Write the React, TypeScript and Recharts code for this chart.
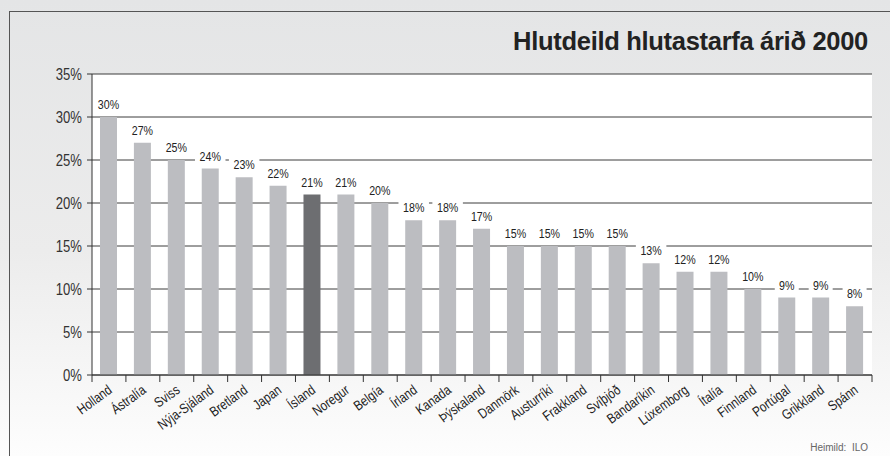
import React from "react";
import { BarChart, Bar, XAxis, YAxis, CartesianGrid, Cell, LabelList } from "recharts";

const countries = [
  "Holland", "Ástralía", "Sviss", "Nýja-Sjáland", "Bretland", "Japan", "Ísland",
  "Noregur", "Belgía", "Írland", "Kanada", "Þýskaland", "Danmörk", "Austurríki",
  "Frakkland", "Svíþjóð", "Bandaríkin", "Lúxemborg", "Ítalía", "Finnland",
  "Portúgal", "Grikkland", "Spánn",
];
const shares = [30, 27, 25, 24, 23, 22, 21, 21, 20, 18, 18, 17, 15, 15, 15, 15, 13, 12, 12, 10, 9, 9, 8];
const highlighted = "Ísland";
const yTicks = [0, 5, 10, 15, 20, 25, 30, 35];
const title = "Hlutdeild hlutastarfa árið 2000";
const source = "Heimild:  ILO";

const data = countries.map((c, i) => ({ country: c, share: shares[i] }));

const SANS = '"Liberation Sans", Arial, sans-serif';
const SQ = 0.82; // horizontal condensing factor
const PLOT_W = 780;
const BAND = PLOT_W / countries.length;

function XTick(props: any) {
  const { x, y, payload, index } = props;
  return (
    <g>
      <line x1={x - BAND / 2} x2={x - BAND / 2} y1={y} y2={y + 7} stroke="#333" strokeWidth={1} />
      {index === countries.length - 1 && (
        <line x1={x + BAND / 2} x2={x + BAND / 2} y1={y} y2={y + 7} stroke="#333" strokeWidth={1} />
      )}
      <text
        transform={`translate(${x + 4},${y + 17}) rotate(-36) scale(${SQ},1)`}
        textAnchor="end"
        fontFamily={SANS}
        fontSize={14}
        fill="#222"
      >
        {payload.value}
      </text>
    </g>
  );
}

function YTick(props: any) {
  const { x, y, payload } = props;
  return (
    <text
      transform={`translate(${x},${y}) scale(0.77,1)`}
      dy="0.36em"
      textAnchor="end"
      fontFamily={SANS}
      fontSize={17}
      fill="#333"
    >
      {`${payload.value}%`}
    </text>
  );
}

function ValueLabel(props: any) {
  const { x, y, width, value } = props;
  const cx = x + width / 2;
  const cy = y - 12.5;
  const txt = `${value}%`;
  const w = txt.length * 6.5 + 11;
  return (
    <g>
      <rect x={cx - w / 2} y={cy - 7} width={w} height={14} fill="#fff" />
      <text
        transform={`translate(${cx},${cy}) scale(${SQ},1)`}
        dy="0.36em"
        textAnchor="middle"
        fontFamily={SANS}
        fontSize={13}
        fill="#222"
      >
        {txt}
      </text>
    </g>
  );
}

export default function App() {
  return (
    <div
      style={{
        position: "absolute",
        top: 0,
        left: 0,
        width: 890,
        height: 456,
        background: "linear-gradient(to bottom, #e4e5e6 0%, #ececec 55%, #fdfdfd 100%)",
        overflow: "hidden",
      }}
    >
      <div
        style={{
          position: "absolute",
          left: 9,
          top: 11,
          width: 900,
          height: 460,
          borderLeft: "1px solid #555",
          borderTop: "1px solid #555",
        }}
      />
      <div
        style={{
          position: "absolute",
          right: 22,
          top: 27,
          fontFamily: SANS,
          fontWeight: "bold",
          fontSize: 25.5,
          color: "#222",
          whiteSpace: "nowrap",
          letterSpacing: -0.3,
        }}
      >
        {title}
      </div>
      <div
        style={{
          position: "absolute",
          right: 22,
          top: 442,
          fontFamily: SANS,
          fontSize: 10,
          color: "#666",
          whiteSpace: "pre",
        }}
      >
        {source}
      </div>
      <div style={{ position: "absolute", left: 0, top: 0 }}>
        <BarChart
          width={890}
          height={456}
          data={data}
          margin={{ top: 74, right: 18, bottom: 0, left: 0 }}
          barCategoryGap={0}
        >
          <CartesianGrid horizontal={true} vertical={false} stroke="#3c3c3c" fill="#fff" strokeWidth={1} />
          <YAxis
            width={92}
            domain={[0, 35]}
            ticks={yTicks}
            interval={0}
            tickSize={5}
            tickMargin={5}
            axisLine={{ stroke: "#333" }}
            tickLine={{ stroke: "#333" }}
            tick={<YTick />}
          />
          <XAxis
            dataKey="country"
            height={81}
            interval={0}
            tickSize={0}
            tickMargin={0}
            axisLine={{ stroke: "#333" }}
            tickLine={false}
            tick={<XTick />}
          />
          <Bar dataKey="share" barSize={17} isAnimationActive={false}>
            {data.map((d) => (
              <Cell key={d.country} fill={d.country === highlighted ? "#6d6e71" : "#bcbdc1"} />
            ))}
            <LabelList dataKey="share" content={<ValueLabel />} />
          </Bar>
        </BarChart>
      </div>
    </div>
  );
}
